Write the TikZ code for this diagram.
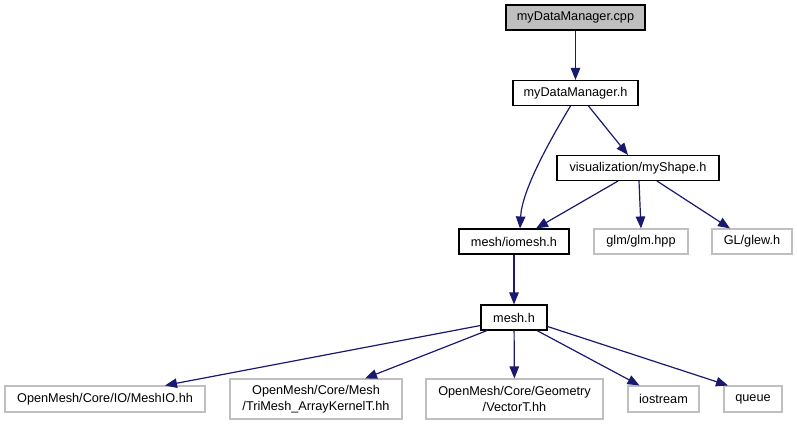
\documentclass[tikz,border=0pt]{standalone}
\usepackage{fontspec}
\setmainfont{Liberation Sans}
\usepackage{xcolor}
\usetikzlibrary{positioning, arrows.meta, calc}
\definecolor{edgeblue}{HTML}{191970}
\definecolor{boxgrey}{HTML}{BFBFBF}

\begin{document}
\begin{tikzpicture}[x=1pt, y=-1pt,
    file/.style={draw=black, line width=1.1pt, inner sep=0pt, minimum height=25pt,
        font=\fontsize{12.7}{16}\selectfont, align=center},
    extfile/.style={file, draw=boxgrey},
    topfile/.style={file, fill=boxgrey},
    dep/.style={draw=edgeblue, line width=1.2pt, -{Triangle[length=12pt, width=9.5pt]}}]
            \useasboundingbox (0,0) rectangle (797,425);

            % Source file and its header
            \node[topfile, minimum width=139pt] (cpp) at (575.5,17.5) {myDataManager.cpp};
            \node[file, minimum width=125pt] (mgr) at (575.5,93) {myDataManager.h};

            % Second level
            \node[file, minimum width=162pt] (shape) at (638,168) {visualization/myShape.h};
            \node[file, minimum width=110pt] (iomesh) at (514,241.5) {mesh/iomesh.h};
            \node[extfile, minimum width=94pt] (glm) at (641,241.5) {glm/glm.hpp};
            \node[extfile, minimum width=80pt] (glew) at (752,241.5) {GL/glew.h};

            % Mesh header
            \node[file, minimum width=66pt] (mesh) at (514,317.5) {mesh.h};

            % External includes of mesh.h
            \node[extfile, minimum width=200pt, minimum height=26pt] (meshio) at (105,399) {OpenMesh/Core/IO/MeshIO.hh};
            \node[extfile, minimum width=172pt, minimum height=40pt] (trimesh) at (316,399) {OpenMesh/Core/Mesh\\/TriMesh\_ArrayKernelT.hh};
            \node[extfile, minimum width=177pt, minimum height=40pt] (vectort) at (514.5,399) {OpenMesh/Core/Geometry\\/VectorT.hh};
            \node[extfile, minimum width=71pt, minimum height=26pt] (iostream) at (663.5,399) {iostream};
            \node[extfile, minimum width=58pt, minimum height=26pt] (queue) at (753,399) {queue};

            % Include edges
            \draw[dep] (cpp) -- (mgr);
            \draw[dep] ([xshift=-5pt]mgr.south) .. controls (550,140) and (522,190) .. ([xshift=6pt]iomesh.north);
            \draw[dep] ([xshift=13pt]mgr.south) -- ([xshift=-10pt]shape.north);
            \draw[dep] ([xshift=-20pt]shape.south) -- ([xshift=22pt]iomesh.north);
            \draw[dep] ([xshift=1pt]shape.south) -- (glm.north);
            \draw[dep] ([xshift=19pt]shape.south) -- ([xshift=-22pt]glew.north);
            \draw[dep] (iomesh) -- (mesh);
            \draw[dep] ([yshift=-8pt]mesh.west) -- ([xshift=60pt]meshio.north);
            \draw[dep] ([xshift=-27pt]mesh.south) -- ([xshift=49pt]trimesh.north);
            \draw[dep] (mesh) -- (vectort);
            \draw[dep] ([xshift=23pt]mesh.south) -- ([xshift=-24pt]iostream.north);
            \draw[dep] ([yshift=-9pt]mesh.east) -- ([xshift=-25pt]queue.north);
        \end{tikzpicture}
\end{document}
